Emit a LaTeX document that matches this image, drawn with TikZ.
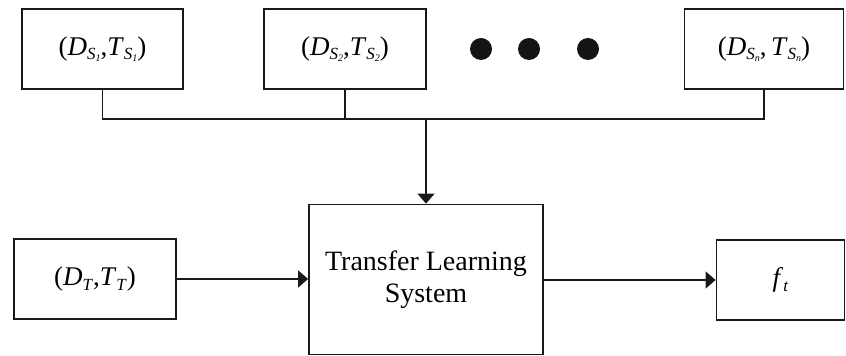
\documentclass[tikz,border=0pt]{standalone}
\usepackage{fontspec}
\setmainfont{Liberation Serif}
\usetikzlibrary{arrows.meta}

% italic symbol with an italic subscript that carries its own tiny subscript
\newcommand{\ddsub}[3]{\textit{#1}\raisebox{-0.18em}{\fontsize{17}{17}\selectfont\textit{#2}\raisebox{-0.1em}{\fontsize{10}{10}\selectfont\textit{#3}}}}
% italic symbol with a single italic subscript
\newcommand{\dsub}[2]{\textit{#1}\raisebox{-0.18em}{\fontsize{17}{17}\selectfont\textit{#2}}}

\begin{document}
\begin{tikzpicture}[x=1pt,y=1pt,
  box/.style={draw=black!90, line width=1.8pt, inner sep=0pt, align=center,
              font=\fontsize{27}{32}\selectfont},
  link/.style={draw=black!90, line width=1.6pt},
  tip/.style={-{Triangle[length=10pt,width=17pt]}},
  dot/.style={circle, fill=black!92, minimum size=22pt, inner sep=0pt}]

\useasboundingbox (0,0) rectangle (846,356);

% source domain/task pairs
\node[box, minimum width=161pt, minimum height=80pt] (s1) at (102.5,307) {(\ddsub{D}{S}{1},\ddsub{T}{S}{1})};
\node[box, minimum width=162pt, minimum height=80pt] (s2) at (345,307) {(\ddsub{D}{S}{2},\ddsub{T}{S}{2})};
\node[box, minimum width=159pt, minimum height=80pt] (sn) at (764,307) {(\ddsub{D}{S}{n},\,\ddsub{T}{S}{n})};

% ellipsis
\node[dot] (d1) at (481,307) {};
\node[dot] (d2) at (529,307) {};
\node[dot] (d3) at (588,307) {};

% central system, target pair and output
\node[box, minimum width=234pt, minimum height=150pt, font=\fontsize{28}{32}\selectfont] (tls) at (426,76.5) {\raisebox{-4pt}{Transfer Learning}\\\raisebox{-4pt}{System}};
\node[box, minimum width=162pt, minimum height=80pt] (dt) at (95,77) {(\dsub{D}{T},\dsub{T}{T})};
\node[box, minimum width=128pt, minimum height=80pt] (ft) at (780.5,76) {\dsub{f}{t}};

% collecting bus from the sources
\coordinate (bus) at (0,237);
\draw[link] (s1.south) -- (s1.south |- bus) -- (sn.south |- bus) -- (sn.south);
\draw[link] (s2.south) -- (s2.south |- bus);
\draw[link, tip] (tls.north |- bus) -- (tls.north);

% target input and learned output
\draw[link, tip] (dt.east) -- (dt.east -| tls.west);
\draw[link, tip] (tls.east |- ft.west) -- (ft.west);
\end{tikzpicture}
\end{document}
